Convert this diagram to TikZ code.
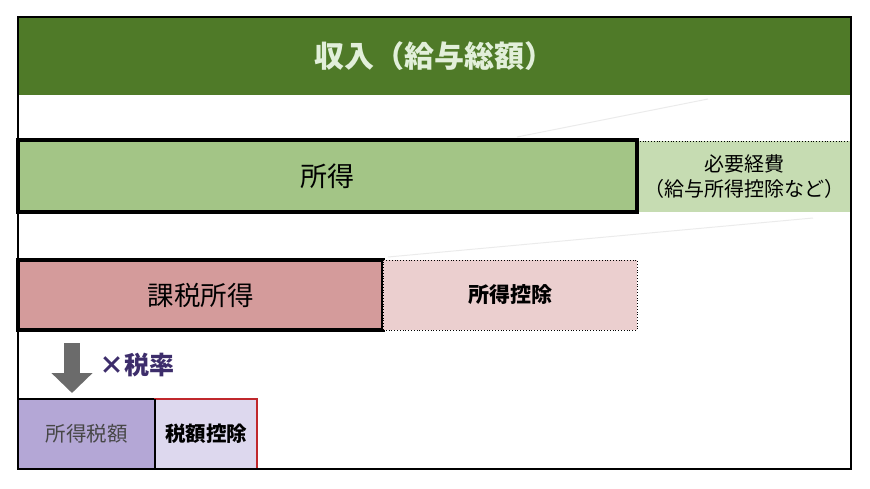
\documentclass[tikz,border=0pt]{standalone}
\usepackage{fontspec}
\setmainfont{Noto Sans CJK JP}
\usetikzlibrary{positioning, arrows.meta}

\definecolor{incomegreen}{HTML}{4F7A28}
\definecolor{incometext}{HTML}{E2EFDA}
\definecolor{shotokugreen}{HTML}{A3C586}
\definecolor{keihigreen}{HTML}{C6DCB2}
\definecolor{kazeipink}{HTML}{D49B9B}
\definecolor{koujopink}{HTML}{EBCFCF}
\definecolor{zeigakupurple}{HTML}{B4A7D6}
\definecolor{zeikoujopurple}{HTML}{DDD8EE}
\definecolor{koujored}{HTML}{C0282C}
\definecolor{ratetext}{HTML}{3D2D6B}

\begin{document}
\begin{tikzpicture}[x=1pt, y=-1pt, node distance=0pt,
                box/.style={rectangle, inner sep=0pt, outer sep=0pt, align=center}]
        \useasboundingbox (0,0) rectangle (870,489);

        \node [box, fill=incomegreen, anchor=north west, minimum width=833pt, minimum height=78pt,
               text=incometext, font=\fontsize{30}{34}\selectfont\bfseries] (income) at (18,17) {収入（給与総額）};

%% faint guide lines
        \coordinate (guideA) at (517,137);
        \coordinate (guideB) at (708,99);
        \coordinate (guideC) at (388,257);
        \coordinate (guideD) at (813,218);
        \draw [black!8, line width=1pt] (guideA) -- (guideB);
        \draw [black!8, line width=1pt] (guideC) -- (guideD);

        \node [box, fill=keihigreen, anchor=north west, minimum width=214pt, minimum height=71pt,
               font=\fontsize{20}{25}\selectfont] (keihi) at (637,141) {必要経費\\（給与所得控除など）};
        \draw [dotted, thick] (keihi.north west) -- (keihi.north east);
        \node [box, fill=shotokugreen, draw, line width=3.5pt, anchor=north west, minimum width=619pt, minimum height=72pt,
               font=\fontsize{27}{30}\selectfont] (shotoku) at (18,140) {所得};

        \node [box, fill=kazeipink, draw, line width=3.5pt, anchor=north west, minimum width=365pt, minimum height=70pt,
               font=\fontsize{26.5}{30}\selectfont] (kazei) at (18,260) {課税所得};
        \node [box, fill=koujopink, draw, dotted, thick, right = of kazei, minimum width=254pt, minimum height=70pt,
               font=\fontsize{21}{24}\selectfont\bfseries] (shotokukoujo) {所得控除};

        \coordinate (arrowtop) at (72,343);
        \coordinate (arrowtip) at (72,393);
        \draw [-{Triangle[width=40pt, length=20pt]}, line width=16pt, black!58] (arrowtop) -- (arrowtip);
        \node [anchor=west, inner sep=0pt, text=ratetext, font=\fontsize{25}{28}\selectfont\bfseries] (rate) at (99,365) {×税率};

        \node [box, fill=zeigakupurple, draw, line width=2.5pt, anchor=north west, minimum width=137pt, minimum height=70pt,
               text=black!72, font=\fontsize{20.5}{24}\selectfont] (zeigaku) at (18,399) {所得税額};
        \node [box, fill=zeikoujopurple, draw=koujored, line width=2.5pt, right = of zeigaku, minimum width=102pt, minimum height=70pt,
               font=\fontsize{20.5}{24}\selectfont\bfseries] (zeikoujo) {税額控除};
        \draw [line width=2.5pt] (zeigaku.north east) -- (zeigaku.south east);

%% frame
        \draw [line width=2pt] (18,17) rectangle (851,469);
\end{tikzpicture}
\end{document}
